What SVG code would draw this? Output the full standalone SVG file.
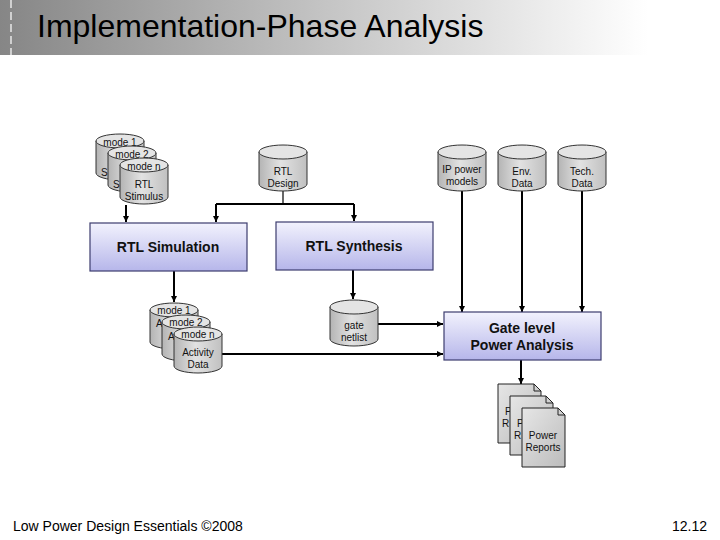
<svg xmlns="http://www.w3.org/2000/svg" width="720" height="540" viewBox="0 0 720 540">
<defs>
<linearGradient id="titleGrad" x1="0" y1="0" x2="1" y2="0">
<stop offset="0" stop-color="#868686"/>
<stop offset="0.45" stop-color="#c4c4c4"/>
<stop offset="0.9" stop-color="#ffffff"/>
</linearGradient>
<linearGradient id="boxGrad" x1="0" y1="0" x2="0" y2="1">
<stop offset="0" stop-color="#f2f2fd"/>
<stop offset="1" stop-color="#b6b6ea"/>
</linearGradient>
<linearGradient id="cylGrad" x1="0" y1="0" x2="1" y2="0">
<stop offset="0" stop-color="#b4b4b4"/>
<stop offset="0.45" stop-color="#e2e2e2"/>
<stop offset="1" stop-color="#c0c0c0"/>
</linearGradient>
<linearGradient id="docGrad" x1="0" y1="0" x2="1" y2="1">
<stop offset="0" stop-color="#e6e6e6"/>
<stop offset="1" stop-color="#bcbcbc"/>
</linearGradient>
<g id="cyl">
<path d="M0,7 V39 A24,7 0 0 0 48,39 V7 Z" fill="url(#cylGrad)" stroke="#333" stroke-width="1"/>
<ellipse cx="24" cy="7" rx="24" ry="7" fill="#e4e4e4" stroke="#333" stroke-width="1"/>
</g>
<g id="doc">
<path d="M0,0 H36 L43,7 V59 H0 Z" fill="url(#docGrad)" stroke="#222" stroke-width="1"/>
<path d="M36,0 V7 H43" fill="none" stroke="#222" stroke-width="1"/>
</g>
<marker id="arr" viewBox="0 0 6 6" refX="6" refY="3" markerWidth="6" markerHeight="6" markerUnits="userSpaceOnUse" orient="auto">
<path d="M0,0 L6,3 L0,6 Z" fill="#000"/>
</marker>
</defs>
<style>
.box{fill:url(#boxGrad);stroke:#3c3c6e;stroke-width:1.2}
.bt{font-family:"Liberation Sans",Arial,sans-serif;font-size:14px;font-weight:bold;fill:#111;text-anchor:middle}
.ct{font-family:"Liberation Sans",Arial,sans-serif;font-size:10px;fill:#111;text-anchor:middle}
.cl{font-family:"Liberation Sans",Arial,sans-serif;font-size:10px;fill:#111}
.ln{fill:none;stroke:#000;stroke-width:2}
</style>
<rect width="720" height="540" fill="#fff"/>
<g id="title">
<rect x="0" y="0" width="720" height="55" fill="url(#titleGrad)"/>
<line x1="11" y1="0" x2="11" y2="55" stroke="#fff" stroke-width="1.2" stroke-dasharray="8,4"/>
<text x="37" y="37" font-family="Liberation Sans,Arial,sans-serif" font-size="32" fill="#000">Implementation-Phase Analysis</text>
</g>
<g id="connectors">
<path class="ln" d="M126,205 V222" marker-end="url(#arr)"/>
<path d="M283,190 V204" fill="none" stroke="#000" stroke-width="1.2"/>
<path class="ln" d="M216,204 H354"/>
<path class="ln" d="M216,204 V222" marker-end="url(#arr)"/>
<path class="ln" d="M354,204 V221" marker-end="url(#arr)"/>
<path class="ln" d="M174,271 V302" marker-end="url(#arr)"/>
<path class="ln" d="M353,270 V299" marker-end="url(#arr)"/>
<path class="ln" d="M378,324 H443" marker-end="url(#arr)"/>
<path class="ln" d="M222,354 H443" marker-end="url(#arr)"/>
<path class="ln" d="M462,190 V312" marker-end="url(#arr)"/>
<path class="ln" d="M522,190 V312" marker-end="url(#arr)"/>
<path class="ln" d="M582,190 V312" marker-end="url(#arr)"/>
<path class="ln" d="M521,360 V384" marker-end="url(#arr)"/>
</g>
<g id="rtl-stimulus">
<use href="#cyl" x="96" y="134"/>
<text class="ct" x="120" y="146">mode 1</text>
<text class="cl" x="101" y="176">S</text>
<use href="#cyl" x="108" y="146"/>
<text class="ct" x="132" y="158">mode 2</text>
<text class="cl" x="113" y="188">S</text>
<use href="#cyl" x="120" y="158"/>
<text class="ct" x="144" y="170">mode n</text>
<text class="ct" x="144" y="188">RTL</text>
<text class="ct" x="144" y="200">Stimulus</text>
</g>
<g id="rtl-design">
<use href="#cyl" x="259" y="145"/>
<text class="ct" x="283" y="175">RTL</text>
<text class="ct" x="283" y="187">Design</text>
</g>
<g id="ip-power-models">
<use href="#cyl" x="438" y="145"/>
<text class="ct" x="462" y="173">IP power</text>
<text class="ct" x="462" y="185">models</text>
</g>
<g id="env-data">
<use href="#cyl" x="498" y="145"/>
<text class="ct" x="522" y="175">Env.</text>
<text class="ct" x="522" y="187">Data</text>
</g>
<g id="tech-data">
<use href="#cyl" x="558" y="145"/>
<text class="ct" x="582" y="175">Tech.</text>
<text class="ct" x="582" y="187">Data</text>
</g>
<g id="rtl-simulation">
<rect class="box" x="90" y="223" width="157" height="48"/>
<text class="bt" x="168" y="252">RTL Simulation</text>
</g>
<g id="rtl-synthesis">
<rect class="box" x="276" y="222" width="157" height="48"/>
<text class="bt" x="354" y="251">RTL Synthesis</text>
</g>
<g id="activity-data">
<use href="#cyl" x="150" y="303"/>
<text class="ct" x="174" y="314">mode 1</text>
<text class="cl" x="156" y="327">A</text>
<use href="#cyl" x="162" y="315"/>
<text class="ct" x="186" y="326">mode 2</text>
<text class="cl" x="168" y="340">A</text>
<use href="#cyl" x="174" y="327"/>
<text class="ct" x="198" y="338">mode n</text>
<text class="ct" x="198" y="356">Activity</text>
<text class="ct" x="198" y="368">Data</text>
</g>
<g id="gate-netlist">
<use href="#cyl" x="330" y="300"/>
<text class="ct" x="354" y="329">gate</text>
<text class="ct" x="354" y="341">netlist</text>
</g>
<g id="gate-level-power-analysis">
<rect class="box" x="444" y="312" width="157" height="48"/>
<text class="bt" x="522" y="333">Gate level</text>
<text class="bt" x="522" y="350">Power Analysis</text>
</g>
<g id="power-reports">
<use href="#doc" x="498" y="384"/>
<text class="cl" x="505" y="415">P</text>
<text class="cl" x="502" y="427">R</text>
<use href="#doc" x="510" y="396"/>
<text class="cl" x="517" y="427">P</text>
<text class="cl" x="514" y="439">R</text>
<use href="#doc" x="522" y="408"/>
<text class="ct" x="543" y="439">Power</text>
<text class="ct" x="543" y="451">Reports</text>
</g>
<g id="footer">
<text x="13" y="531" font-family="Liberation Sans,Arial,sans-serif" font-size="14" fill="#000">Low Power Design Essentials ©2008</text>
<text x="707" y="531" font-family="Liberation Sans,Arial,sans-serif" font-size="14" fill="#000" text-anchor="end">12.12</text>
</g>
</svg>
